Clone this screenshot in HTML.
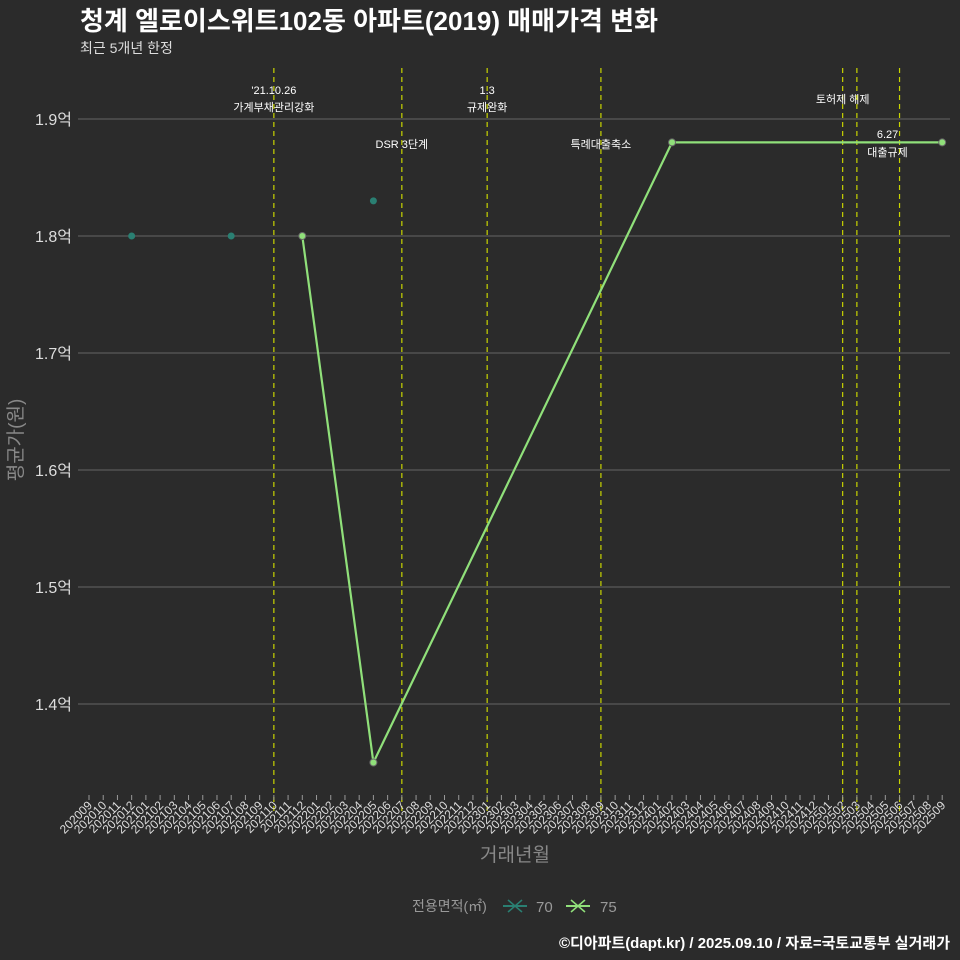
<!DOCTYPE html>
<html><head><meta charset="utf-8">
<style>
body{margin:0;background:#2b2b2b;}
svg{display:block;font-family:"Liberation Sans","Noto Sans CJK KR",sans-serif;}
</style></head>
<body>
<svg id="chart" width="960" height="960" viewBox="0 0 960 960">
<rect width="960" height="960" fill="#2b2b2b"/>
<text x="80" y="30" fill="#ffffff" font-size="26" font-weight="bold">청계 엘로이스위트102동 아파트(2019) 매매가격 변화</text>
<text x="80" y="53" fill="#dddddd" font-size="14">최근 5개년 한정</text>
<g id="grid"></g>
<g id="vlines"></g>
<g id="xaxis"></g>
<g id="marks"></g>
<text x="515" y="861" fill="#888" font-size="19" text-anchor="middle">거래년월</text>
<text transform="translate(22,440) rotate(-90)" fill="#888" font-size="19" text-anchor="middle">평균가(원)</text>
<g>
<text x="412" y="911" fill="#999" font-size="14">전용면적(㎡)</text>
<g><line x1="503" y1="906" x2="527" y2="906" stroke="#2a7f72" stroke-width="2"/><line x1="508" y1="900" x2="522" y2="912" stroke="#2a7f72" stroke-width="1.5"/><line x1="508" y1="912" x2="522" y2="900" stroke="#2a7f72" stroke-width="1.5"/><text x="536" y="912" fill="#999" font-size="15">70</text></g>
<g><line x1="566" y1="906" x2="590" y2="906" stroke="#90e07a" stroke-width="2"/><line x1="571" y1="900" x2="585" y2="912" stroke="#90e07a" stroke-width="1.5"/><line x1="571" y1="912" x2="585" y2="900" stroke="#90e07a" stroke-width="1.5"/><text x="600" y="912" fill="#999" font-size="15">75</text></g>
</g>
<text x="950" y="948" fill="#ffffff" font-size="15" font-weight="bold" text-anchor="end">©디아파트(dapt.kr) / 2025.09.10 / 자료=국토교통부 실거래가</text>
</svg>
<script>
const months=[];
for(let y=2020;y<=2025;y++)for(let m=1;m<=12;m++){const k=y*100+m;if(k>=202009&&k<=202509)months.push(String(k));}
const yTicks=[1.4,1.5,1.6,1.7,1.8,1.9];
const s70Months=["202012","202107","202205"];
const s70Values=[1.8,1.8,1.83];
const s75Months=["202112","202205","202402","202509"];
const s75Values=[1.8,1.35,1.88,1.88];
const eventMonths=["202110","202207","202301","202309","202502","202503","202506"];
const eventLabels=[["'21.10.26","가계부채관리강화"],["DSR 3단계"],["1.3","규제완화"],["특례대출축소"],["토허제 해제"],[],["6.27","대출규제"]];
const eventLabelY=[[94,111],[148],[94,111],[148],[103],[],[138,156]];
const eventLabelDx=[0,0,0,0,0,0,-12];
const NS="http://www.w3.org/2000/svg";
const xs=m=>89+months.indexOf(m)*14.22;
const ys=v=>236-(v-1.8)*1170;
function mk(tag,attrs,parent){const e=document.createElementNS(NS,tag);for(const k in attrs)e.setAttribute(k,attrs[k]);parent.appendChild(e);return e;}
const grid=document.getElementById('grid');
yTicks.forEach(t=>{
 const l=mk('line',{x1:78,x2:950,y1:ys(t),y2:ys(t),stroke:'#5a5a5a','stroke-width':1.3},grid);
 
 
 const tx=mk('text',{x:72,y:ys(t)+6,fill:'#dddddd','font-size':16,'text-anchor':'end'},grid);
 tx.textContent=t.toFixed(1)+'억';
 
 
});
const vl=document.getElementById('vlines');
eventMonths.forEach((m,i)=>{
 const x=xs(m);
 const l=mk('line',{x1:x,x2:x,y1:68,y2:815,stroke:'#c8d400','stroke-width':1.2,'stroke-dasharray':'5,4'},vl);
 
 
 eventLabels[i].forEach((s,j)=>{
  const t=mk('text',{x:x+eventLabelDx[i],y:eventLabelY[i][j],fill:'#ffffff','font-size':11,'text-anchor':'middle'},vl);
  t.textContent=s;
  
  
 });
});
const xa=document.getElementById('xaxis');
months.forEach(m=>{
 const x=xs(m);
 const tk=mk('line',{x1:x,x2:x,y1:795,y2:800,stroke:'#999','stroke-width':1},xa);
 
 
 const t=mk('text',{x:x+4,y:806,fill:'#dddddd','font-size':12,'text-anchor':'end',transform:`rotate(-45 ${x+4} 806)`},xa);
 t.textContent=m;
 
 
});
const mg=document.getElementById('marks');
s70Months.forEach((m,i)=>{
 const c=mk('circle',{cx:xs(m),cy:ys(s70Values[i]),r:3.5,fill:'#2a7f72'},mg);
 
 
});
const p=mk('polyline',{points:s75Months.map((m,i)=>xs(m)+','+ys(s75Values[i])).join(' '),fill:'none',stroke:'#90e07a','stroke-width':2.2},mg);


s75Months.forEach((m,i)=>{
 const c=mk('circle',{cx:xs(m),cy:ys(s75Values[i]),r:3.5,fill:'#90e07a',stroke:'#6a6a6a','stroke-width':1},mg);
 
 
});
</script>
</body></html>
